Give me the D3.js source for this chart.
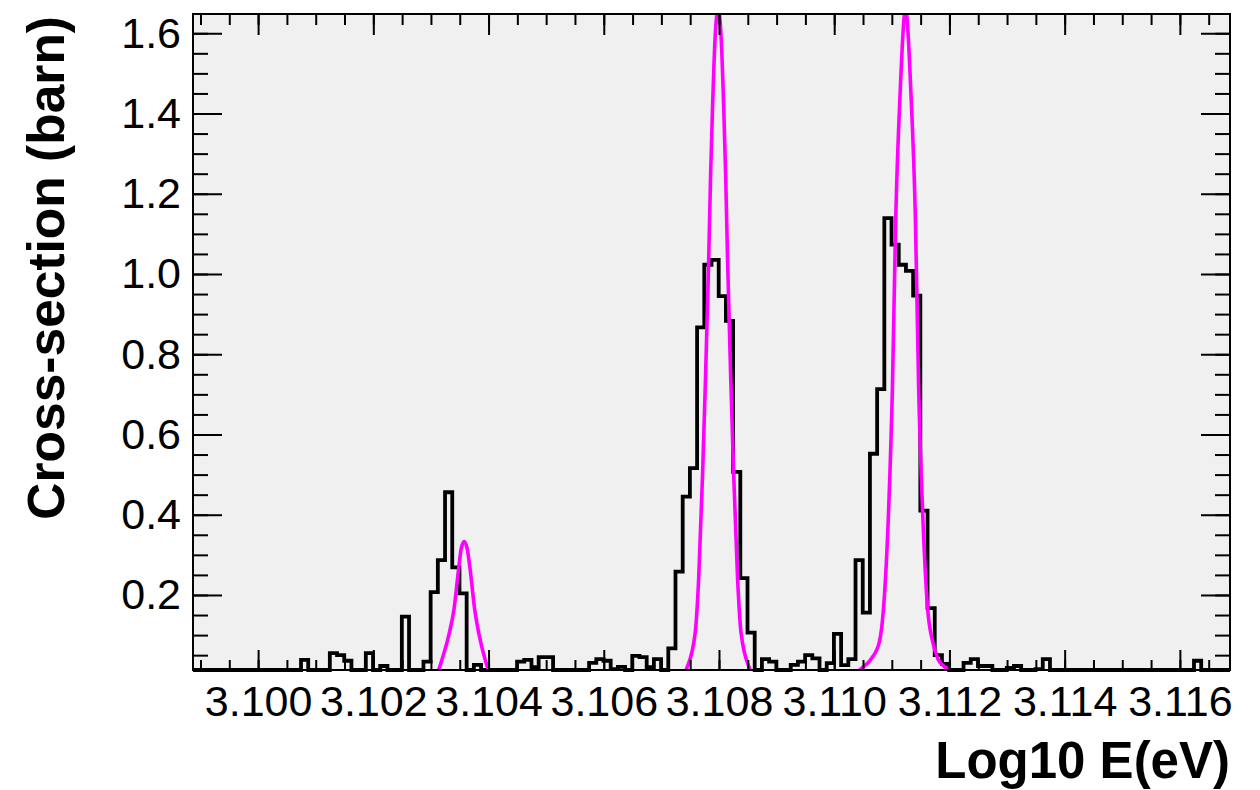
<!DOCTYPE html>
<html>
<head>
<meta charset="utf-8">
<script src="https://cdn.jsdelivr.net/npm/d3@7"></script>
<style>
  html, body { margin: 0; padding: 0; background: #ffffff; }
  svg { display: block; }
  text { font-family: "Liberation Sans", Arial, Helvetica, sans-serif; }
</style>
</head>
<body>
<svg id="chart" width="1260" height="790"></svg>
<script>
// ---- histogram: cross-section per log10(E) bin ----
const histStart = 3.09887;      // low edge of first bin
const histBinWidth = 0.000125;  // bin width in log10 E
const histValues = [
  0, 0, 0, 0, 0, 0, 0, 0, 0, 0,                                  // 0-9
  0, 0, 0, 0, 0, 0.038, 0, 0, 0, 0.055,                          // 10-19
  0.05, 0.036, 0, 0, 0.055, 0, 0.023, 0, 0, 0.146,               // 20-29
  0, 0, 0.034, 0.207, 0.287, 0.456, 0.269, 0.204, 0, 0.026,      // 30-39
  0, 0, 0, 0, 0, 0.034, 0.038, 0.02, 0.045, 0.045,               // 40-49
  0, 0, 0, 0, 0, 0.031, 0.04, 0.036, 0.015, 0.021,               // 50-59
  0, 0.048, 0.045, 0.02, 0.04, 0, 0.067, 0.258, 0.445, 0.516,    // 60-69
  0.867, 1.023, 1.035, 0.945, 0.883, 0.507, 0.242, 0.106, 0, 0.04, // 70-79
  0.034, 0, 0, 0.026, 0.034, 0.05, 0.042, 0, 0.03, 0.103,        // 80-89
  0.025, 0.04, 0.287, 0.156, 0.552, 0.713, 1.139, 1.073, 1.023, 1.008, // 90-99
  0.946, 0.41, 0.167, 0.05, 0.028, 0, 0, 0.031, 0.04, 0.023,     // 100-109
  0.023, 0, 0, 0.018, 0.023, 0, 0, 0.015, 0.04, 0,               // 110-119
  0, 0, 0, 0, 0, 0, 0, 0, 0, 0,                                  // 120-129
  0, 0, 0, 0, 0, 0, 0, 0, 0, 0.036,                              // 130-139
  0, 0, 0, 0                                                     // 140-143
];

// ---- fitted peak curves (log10 E, cross-section) ----
const peak1E = [3.103103, 3.103190, 3.103304, 3.103403, 3.103478, 3.103525, 3.103577,
                3.103630, 3.103682, 3.103757, 3.103843, 3.103943, 3.104030];
const peak1Y = [0, 0.038, 0.096, 0.167, 0.262, 0.315, 0.333,
                0.315, 0.262, 0.167, 0.096, 0.038, 0];

const peak2E = [3.107387, 3.107437, 3.107587, 3.107648, 3.107715, 3.107768, 3.107820,
                3.107855, 3.107889, 3.107933, 3.107985, 3.108037, 3.108081, 3.108115,
                3.108150, 3.108202, 3.108255, 3.108322, 3.108383, 3.108533, 3.108583];
const peak2Y = [0, 0.016, 0.106, 0.243, 0.50, 0.75, 1.03,
                1.25, 1.42, 1.59, 1.66, 1.59, 1.42, 1.25,
                1.03, 0.75, 0.50, 0.243, 0.106, 0.016, 0];

const peak3E = [3.110325, 3.110499, 3.110638, 3.110784, 3.110856, 3.110944, 3.111010,
                3.111068, 3.111144, 3.111238, 3.111332, 3.111409, 3.111466, 3.111534,
                3.111621, 3.111710, 3.111803, 3.111925, 3.112082];
const peak3Y = [0, 0.02, 0.04, 0.083, 0.167, 0.41, 0.715,
                1.139, 1.45, 1.66, 1.45, 1.139, 0.715, 0.41,
                0.167, 0.083, 0.04, 0.02, 0];

// ---- axes ----
const xRange = [3.09887, 3.11687];
const yRange = [0.013, 1.648];
const xTickValues = [3.100, 3.102, 3.104, 3.106, 3.108, 3.110, 3.112, 3.114, 3.116];
const xTickLabels = ["3.100", "3.102", "3.104", "3.106", "3.108", "3.110", "3.112", "3.114", "3.116"];
const yTickValues = [0.2, 0.4, 0.6, 0.8, 1.0, 1.2, 1.4, 1.6];
const yTickLabels = ["0.2", "0.4", "0.6", "0.8", "1.0", "1.2", "1.4", "1.6"];
const xTitle = "Log10 E(eV)";
const yTitle = "Cross-section (barn)";

// ---- layout ----
const frame = { left: 193, right: 1230, top: 14, bottom: 670 };
const svg = d3.select("#chart");

const x = d3.scaleLinear().domain(xRange).range([frame.left, frame.right]);
const y = d3.scaleLinear().domain(yRange).range([frame.bottom, frame.top]);

const defs = svg.append("defs");
defs.append("clipPath").attr("id", "frameClip")
  .append("rect")
  .attr("x", frame.left).attr("y", frame.top)
  .attr("width", frame.right - frame.left).attr("height", frame.bottom - frame.top);
defs.append("clipPath").attr("id", "histClip")
  .append("rect")
  .attr("x", frame.left).attr("y", frame.top - 3)
  .attr("width", frame.right - frame.left).attr("height", frame.bottom - frame.top + 6);

// pad background
svg.append("rect")
  .attr("x", frame.left).attr("y", frame.top)
  .attr("width", frame.right - frame.left).attr("height", frame.bottom - frame.top)
  .attr("fill", "#f0f0f0");

// histogram outline (values below the axis minimum sit on the frame bottom)
const histPoints = histValues.map((v, i) => [histStart + i * histBinWidth, v]);
histPoints.push([histStart + histValues.length * histBinWidth, histValues[histValues.length - 1]]);
const histLine = d3.line()
  .x(d => x(d[0]))
  .y(d => y(Math.max(d[1], yRange[0])))
  .curve(d3.curveStepAfter);
svg.append("path")
  .attr("clip-path", "url(#histClip)")
  .attr("d", histLine(histPoints))
  .attr("fill", "none")
  .attr("stroke", "#000")
  .attr("stroke-width", 3.8)
  .attr("stroke-linejoin", "miter");

// fit curves
const fitLine = d3.line()
  .x(d => x(d[0]))
  .y(d => y(d[1]))
  .curve(d3.curveMonotoneX);
const peaks = [[peak1E, peak1Y], [peak2E, peak2Y], [peak3E, peak3Y]];
svg.append("g").attr("clip-path", "url(#frameClip)")
  .selectAll("path")
  .data(peaks)
  .join("path")
  .attr("d", p => fitLine(p[0].map((e, i) => [e, p[1][i]])))
  .attr("fill", "none")
  .attr("stroke", "#ff00ff")
  .attr("stroke-width", 3.6);

// minor tick positions
const xMinor = d3.range(3.099, 3.1166, 0.0005).filter(v => v >= xRange[0] && v <= xRange[1]);
const yMinor = d3.range(0.05, 1.62, 0.05).filter(v => v >= yRange[0] && v <= yRange[1]);

function styleAxis(g) {
  g.select(".domain").remove();
  g.selectAll(".tick line").attr("stroke", "#000").attr("stroke-width", 2);
}

// bottom axis
svg.append("g").attr("transform", `translate(0,${frame.bottom})`)
  .call(d3.axisBottom(x).tickValues(xMinor).tickSize(-10).tickFormat(""))
  .call(styleAxis);
svg.append("g").attr("transform", `translate(0,${frame.bottom})`)
  .call(d3.axisBottom(x).tickValues(xTickValues).tickSize(-20).tickPadding(15)
    .tickFormat((d, i) => xTickLabels[i]))
  .call(styleAxis)
  .call(g => g.selectAll(".tick text")
    .attr("font-size", 43).attr("fill", "#000"));

// top axis
svg.append("g").attr("transform", `translate(0,${frame.top})`)
  .call(d3.axisTop(x).tickValues(xMinor).tickSize(-11).tickFormat(""))
  .call(styleAxis);
svg.append("g").attr("transform", `translate(0,${frame.top})`)
  .call(d3.axisTop(x).tickValues(xTickValues).tickSize(-21).tickFormat(""))
  .call(styleAxis);

// left axis
svg.append("g").attr("transform", `translate(${frame.left},0)`)
  .call(d3.axisLeft(y).tickValues(yMinor).tickSize(-15).tickFormat(""))
  .call(styleAxis);
svg.append("g").attr("transform", `translate(${frame.left},0)`)
  .call(d3.axisLeft(y).tickValues(yTickValues).tickSize(-29).tickPadding(12)
    .tickFormat((d, i) => yTickLabels[i]))
  .call(styleAxis)
  .call(g => g.selectAll(".tick text")
    .attr("font-size", 43).attr("fill", "#000"));

// right axis
svg.append("g").attr("transform", `translate(${frame.right},0)`)
  .call(d3.axisRight(y).tickValues(yMinor).tickSize(-15).tickFormat(""))
  .call(styleAxis);
svg.append("g").attr("transform", `translate(${frame.right},0)`)
  .call(d3.axisRight(y).tickValues(yTickValues).tickSize(-29).tickFormat(""))
  .call(styleAxis);

// frame border
svg.append("rect")
  .attr("x", frame.left).attr("y", frame.top)
  .attr("width", frame.right - frame.left).attr("height", frame.bottom - frame.top)
  .attr("fill", "none").attr("stroke", "#000").attr("stroke-width", 2);

// axis titles
svg.append("text")
  .attr("x", frame.right).attr("y", 778)
  .attr("text-anchor", "end")
  .attr("font-size", 51).attr("font-weight", "bold")
  .text(xTitle);
svg.append("text")
  .attr("transform", `translate(64,${frame.top + 2}) rotate(-90)`)
  .attr("text-anchor", "end")
  .attr("font-size", 51.5).attr("font-weight", "bold")
  .text(yTitle);
</script>
</body>
</html>
